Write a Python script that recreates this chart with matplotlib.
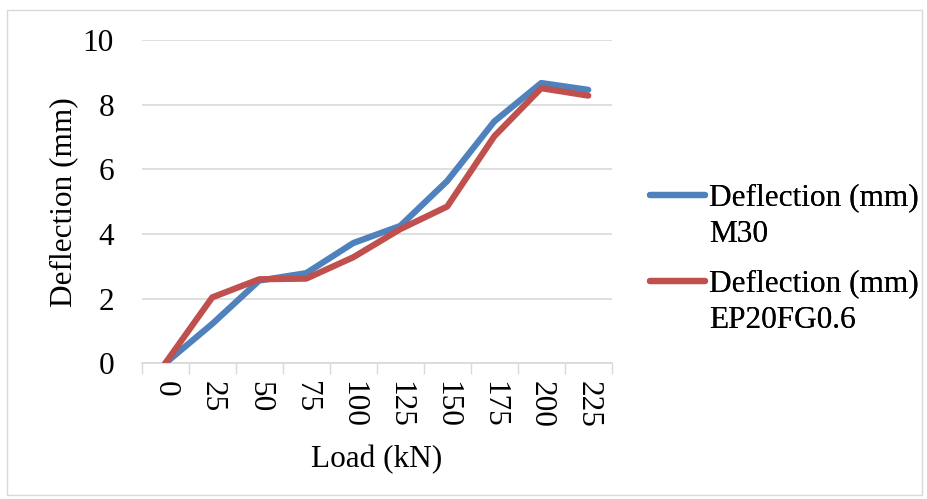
import numpy as np
import matplotlib.pyplot as plt
from matplotlib.lines import Line2D
from matplotlib.ticker import FixedLocator

load = ['0', '25', '50', '75', '100', '125', '150', '175', '200', '225']
defl_m30 = [0, 1.22, 2.56, 2.79, 3.72, 4.25, 5.64, 7.48, 8.67, 8.46]
defl_ep20 = [0, 2.04, 2.60, 2.62, 3.28, 4.15, 4.85, 7.02, 8.51, 8.28]
series_names = ['Deflection (mm)', 'Deflection (mm)']
series_sub = ['M30', 'EP20FG0.6']

plt.rcParams['font.family'] = ['Liberation Serif', 'DejaVu Serif']
fs = 22.5

fig = plt.figure(figsize=(9.27, 4.99), dpi=100)
ax = fig.add_axes([0.1529, 0.2719, 0.5070, 0.6479])

x = np.arange(len(load))
l1, = ax.plot(x, defl_m30, color='#4F81BD', lw=4.5, solid_capstyle='round', solid_joinstyle='round', zorder=3)
l2, = ax.plot(x, defl_ep20, color='#C0504D', lw=4.5, solid_capstyle='round', solid_joinstyle='round', zorder=3)

ax.set_xlim(-0.5, len(load) - 0.5)
ax.set_ylim(0, 10)
ax.set_yticks(np.arange(0, 11, 2))
ax.set_xticks(x)
ax.set_xticklabels(load, rotation=-90, fontsize=fs)
ax.xaxis.set_minor_locator(FixedLocator(np.arange(-0.5, len(load), 1)))
ax.tick_params(axis='x', which='major', length=0, pad=13)
ax.tick_params(axis='x', which='minor', length=8, width=1, color='#D9D9D9')
ax.tick_params(axis='y', length=0, labelsize=fs, pad=20)

ax.grid(axis='y', color='#D9D9D9', lw=1.2)
ax.set_axisbelow(True)
for s in ['top', 'right', 'left']:
    ax.spines[s].set_visible(False)
ax.spines['bottom'].set_color('#D9D9D9')
ax.spines['bottom'].set_linewidth(1.2)

ax.set_xlabel('Load (kN)', fontsize=fs, labelpad=12)
ax.set_ylabel('Deflection (mm)', fontsize=fs, labelpad=3)

# one legend per series so the handle sits on the first text line
blank = Line2D([], [], color='none')
for line, name, sub, yc in [(l1, series_names[0], series_sub[0], 0.566),
                            (l2, series_names[1], series_sub[1], 0.394)]:
    leg = fig.legend([line, blank], [name, sub], loc='center left',
                     bbox_to_anchor=(0.701, yc), frameon=False, fontsize=fs,
                     handlelength=1.75, handletextpad=0.15, labelspacing=0.25,
                     borderpad=0, borderaxespad=0)
    fig.add_artist(leg)

fig.patches.append(plt.Rectangle((0.0076, 0.008), 0.987, 0.972, transform=fig.transFigure,
                                 fill=False, edgecolor='#D9D9D9', lw=1))

fig.savefig('out.png', dpi=100)
